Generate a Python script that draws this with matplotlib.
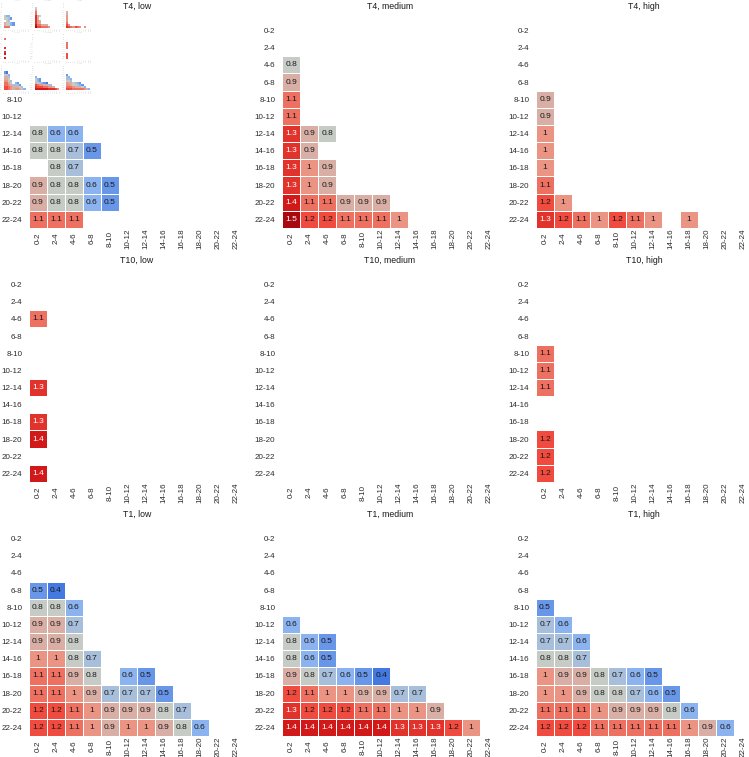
import numpy as np
import matplotlib
matplotlib.use("Agg")
import matplotlib.pyplot as plt
from matplotlib.colors import LinearSegmentedColormap, Normalize
from matplotlib.patches import Rectangle

plt.rcParams['font.family'] = ['Liberation Sans', 'DejaVu Sans']

hours = ["0-2", "2-4", "4-6", "6-8", "8-10", "10-12",
         "12-14", "14-16", "16-18", "18-20", "20-22", "22-24"]

# row index (0 = "0-2") -> values starting at column "0-2", None = no cell
t4_low = {6: [0.8, 0.6, 0.6],
          7: [0.8, 0.8, 0.7, 0.5],
          8: [None, 0.8, 0.7],
          9: [0.9, 0.8, 0.8, 0.6, 0.5],
          10: [0.9, 0.8, 0.8, 0.6, 0.5],
          11: [1.1, 1.1, 1.1]}
t4_medium = {2: [0.8], 3: [0.9], 4: [1.1], 5: [1.1],
             6: [1.3, 0.9, 0.8],
             7: [1.3, 0.9],
             8: [1.3, 1.0, 0.9],
             9: [1.3, 1.0, 0.9],
             10: [1.4, 1.1, 1.1, 0.9, 0.9, 0.9],
             11: [1.5, 1.2, 1.2, 1.1, 1.1, 1.1, 1.0]}
t4_high = {4: [0.9], 5: [0.9], 6: [1.0], 7: [1.0], 8: [1.0], 9: [1.1],
           10: [1.2, 1.0],
           11: [1.3, 1.2, 1.1, 1.0, 1.2, 1.1, 1.0, None, 1.0]}
t10_low = {2: [1.1], 6: [1.3], 8: [1.3], 9: [1.4], 11: [1.4]}
t10_medium = {}
t10_high = {4: [1.1], 5: [1.1], 6: [1.1], 9: [1.2], 10: [1.2], 11: [1.2]}
t1_low = {3: [0.5, 0.4],
          4: [0.8, 0.8, 0.6],
          5: [0.9, 0.9, 0.7],
          6: [0.9, 0.9, 0.8],
          7: [1.0, 1.0, 0.8, 0.7],
          8: [1.1, 1.1, 0.9, 0.8, None, 0.6, 0.5],
          9: [1.1, 1.1, 1.0, 0.9, 0.7, 0.7, 0.7, 0.5],
          10: [1.2, 1.2, 1.1, 1.0, 0.9, 0.9, 0.9, 0.8, 0.7],
          11: [1.2, 1.2, 1.1, 1.0, 0.9, 1.0, 1.0, 0.9, 0.8, 0.6]}
t1_medium = {5: [0.6],
             6: [0.8, 0.6, 0.5],
             7: [0.8, 0.6, 0.5],
             8: [0.9, 0.8, 0.7, 0.6, 0.5, 0.4],
             9: [1.2, 1.1, 1.0, 1.0, 0.9, 0.9, 0.7, 0.7],
             10: [1.3, 1.2, 1.2, 1.2, 1.1, 1.1, 1.0, 1.0, 0.9],
             11: [1.4, 1.4, 1.4, 1.4, 1.4, 1.4, 1.3, 1.3, 1.3, 1.2, 1.0]}
t1_high = {4: [0.5],
           5: [0.7, 0.6],
           6: [0.7, 0.7, 0.6],
           7: [0.8, 0.8, 0.7],
           8: [1.0, 0.9, 0.9, 0.8, 0.7, 0.6, 0.5],
           9: [1.0, 1.0, 0.9, 0.8, 0.8, 0.7, 0.6, 0.5],
           10: [1.1, 1.1, 1.1, 1.0, 0.9, 0.9, 0.9, 0.8, 0.6],
           11: [1.2, 1.2, 1.2, 1.1, 1.1, 1.1, 1.1, 1.1, 1.0, 0.9, 0.6]}

panels = [["T4, low", t4_low], ["T4, medium", t4_medium], ["T4, high", t4_high],
          ["T10, low", t10_low], ["T10, medium", t10_medium], ["T10, high", t10_high],
          ["T1, low", t1_low], ["T1, medium", t1_medium], ["T1, high", t1_high]]

vmin, vmax = 0.4, 1.5
stops = [(0.4, "#4479e2"), (0.6, "#8cb3ef"), (0.8, "#c6cbc6"),
         (1.0, "#eb9484"), (1.2, "#f04c3e"), (1.4, "#d2191a"), (1.5, "#a8080f")]
cmap = LinearSegmentedColormap.from_list(
    "fill", [((v - vmin) / (vmax - vmin), c) for v, c in stops])
norm = Normalize(vmin, vmax)

W, H = 749, 757
lefts = [29, 282, 536]
tops = [22, 276, 530]
aw, ah = 216, 206


def to_grid(rows):
    grid = np.full((12, 12), np.nan)
    for r, vals in rows.items():
        for c, v in enumerate(vals):
            if v is not None:
                grid[r, c] = v
    return grid


def draw_panel(fig, x, y, title, rows, s=1.0, z=0):
    mini = s < 1
    ax = fig.add_axes([x * s / W, 1 - (y + ah) * s / H, aw * s / W, ah * s / H])
    ax.set_zorder(z)
    grid = to_grid(rows)
    ax.pcolormesh(np.arange(13), np.arange(13), np.ma.masked_invalid(grid),
                  cmap=cmap, norm=norm,
                  edgecolors="none" if mini else "white", linewidth=0.7)
    ax.set_xlim(0, 12)
    ax.set_ylim(12, 0)
    ax.set_xticks(np.arange(12) + 0.5)
    ax.set_yticks(np.arange(12) + 0.5)
    ax.set_xticklabels(hours, rotation=90, va="center", ha="center")
    ax.set_yticklabels(hours)
    txt_col = "#c8c8c8" if mini else "#2a2a2a"
    ax.tick_params(length=0, labelsize=5.8 * s, colors=txt_col)
    ax.tick_params(axis="x", pad=7.6 * s)
    ax.tick_params(axis="y", pad=4.8 * s)
    for sp in ax.spines.values():
        sp.set_visible(False)
    ax.text(0.5, 1 + 15.5 / ah, title, transform=ax.transAxes, ha="center",
            va="center", fontsize=6.3 * s,
            color="#c8c8c8" if mini else "#1a1a1a")
    if mini:
        return ax
    for r in range(12):
        for c in range(12):
            v = grid[r, c]
            if np.isnan(v):
                continue
            col = "white" if v >= 1.3 else "#1a1a1a"
            ax.text(c + 0.5, r + 0.5, f"{v:g}", ha="center", va="center",
                    fontsize=6.0, color=col)
    return ax


fig = plt.figure(figsize=(W / 100, H / 100), dpi=100)
for i, (title, rows) in enumerate(panels):
    draw_panel(fig, lefts[i % 3], tops[i // 3], title, rows)

# small thumbnail of the whole figure in the top-left corner
thumb = 93
fig.add_artist(Rectangle((0, 1 - thumb / H), thumb / W, thumb / H,
                         transform=fig.transFigure, facecolor="white",
                         edgecolor="none", zorder=5))
sc = thumb / H
for i, (title, rows) in enumerate(panels):
    draw_panel(fig, lefts[i % 3], tops[i // 3], title, rows, s=sc, z=6)

fig.savefig("out.png", dpi=100)
